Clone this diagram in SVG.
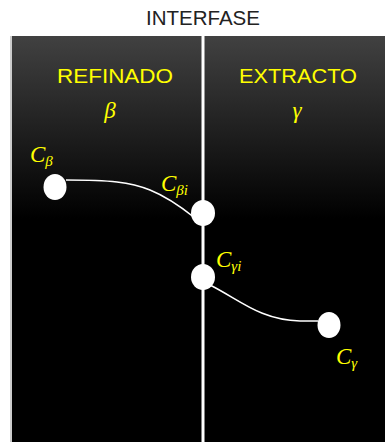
<svg xmlns="http://www.w3.org/2000/svg" width="385" height="442" viewBox="0 0 385 442">
<defs>
<linearGradient id="bg" x1="0" y1="0" x2="0" y2="1">
<stop offset="0" stop-color="#414141"/>
<stop offset="0.45" stop-color="#000"/>
<stop offset="1" stop-color="#000"/>
</linearGradient>
<style>
.hd{font-family:"Liberation Sans",Arial,sans-serif;font-size:21px;fill:#ffff00;text-anchor:middle}
.gr{font-family:"Liberation Serif","DejaVu Serif",serif;font-style:italic;font-size:23px;fill:#ffff00;text-anchor:middle}
.lb{font-family:"Liberation Serif","DejaVu Serif",serif;font-style:italic;font-size:23px;fill:#ffff00}
.sub{font-size:15px}
.node{fill:#fff}
.cv{fill:none;stroke:#fff;stroke-width:1.6}
</style>
</defs>
<rect x="0" y="0" width="385" height="442" fill="#fff"/>
<rect x="10" y="36" width="3" height="406" fill="#ccc"/>
<rect x="12" y="36" width="373" height="406" fill="url(#bg)"/>
<text x="203" y="25" font-family="Liberation Sans,Arial,sans-serif" font-size="21" fill="#222" text-anchor="middle" textLength="114" lengthAdjust="spacingAndGlyphs">INTERFASE</text>
<rect x="201.5" y="36" width="3" height="406" fill="#fff"/>
<text class="hd" x="115" y="83" textLength="116" lengthAdjust="spacingAndGlyphs">REFINADO</text>
<text class="hd" x="298" y="83" textLength="118" lengthAdjust="spacingAndGlyphs">EXTRACTO</text>
<text class="gr" x="110" y="118">β</text>
<text class="gr" x="297" y="118">γ</text>
<g id="connectors">
<path class="cv" d="M66,180 C110,180 130,182 150,190 C170,198 185,210 195,218"/>
<path class="cv" d="M210,285 C240,300 260,320 300,321 L318,321"/>
</g>
<g id="Cb"><ellipse class="node" cx="55" cy="187" rx="11.5" ry="13"/><text class="lb" x="30" y="162">C<tspan class="sub" dy="4">β</tspan></text></g>
<g id="Cbi"><ellipse class="node" cx="203" cy="213" rx="12" ry="13"/><text class="lb" x="161" y="191">C<tspan class="sub" dy="4">βi</tspan></text></g>
<g id="Cgi"><ellipse class="node" cx="203" cy="277" rx="12" ry="13"/><text class="lb" x="216" y="267">C<tspan class="sub" dy="4">γi</tspan></text></g>
<g id="Cg"><ellipse class="node" cx="329" cy="325" rx="11.5" ry="13"/><text class="lb" x="336" y="364">C<tspan class="sub" dy="4">γ</tspan></text></g>
</svg>
